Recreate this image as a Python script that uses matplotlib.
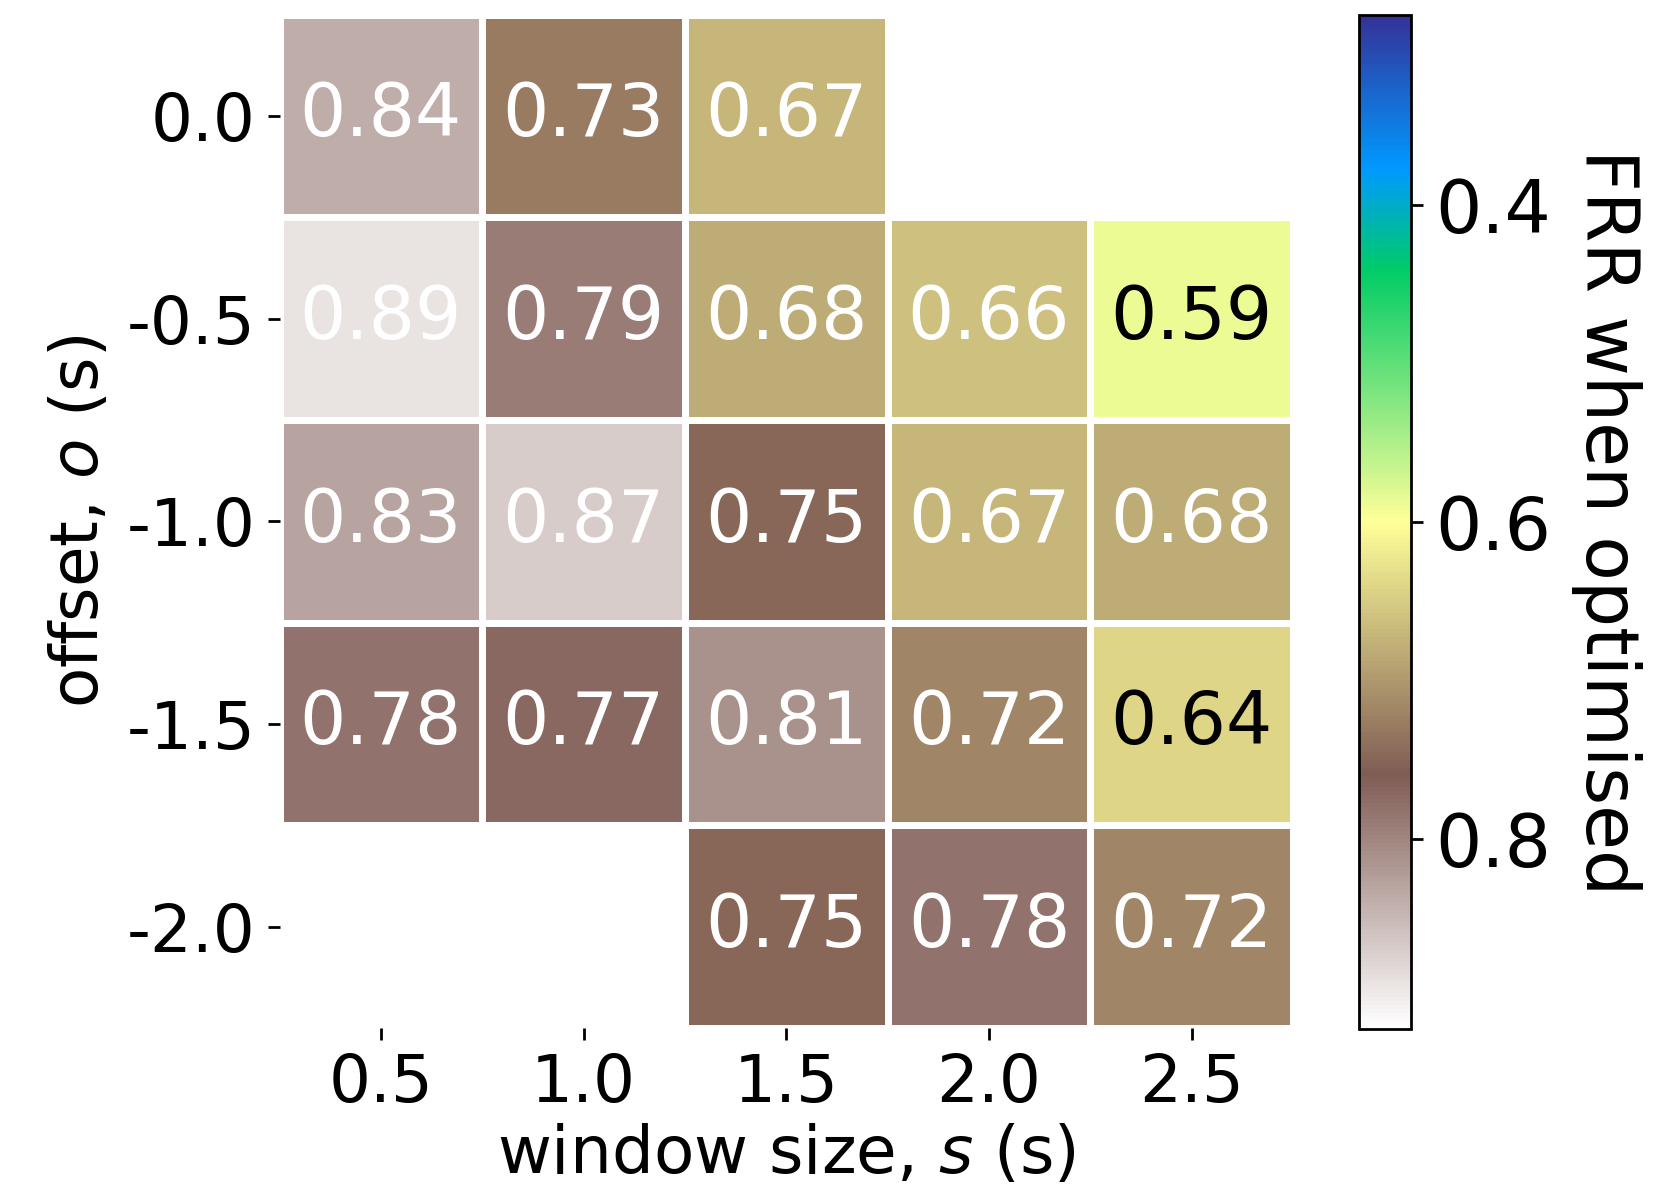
"""
Heatmap of the FRR reached after optimisation, per window size and offset.
"""

import matplotlib

matplotlib.use("Agg")
import matplotlib.pyplot as plt
import numpy as np

#### Data

WINDOW_SIZES = ["0.5", "1.0", "1.5", "2.0", "2.5"]
OFFSETS = ["0.0", "-0.5", "-1.0", "-1.5", "-2.0"]
# rows follow OFFSETS, columns follow WINDOW_SIZES (nan = not evaluated)
FRR_OFFSET_0_0 = [0.84, 0.73, 0.67, np.nan, np.nan]
FRR_OFFSET_0_5 = [0.89, 0.79, 0.68, 0.66, 0.59]
FRR_OFFSET_1_0 = [0.83, 0.87, 0.75, 0.67, 0.68]
FRR_OFFSET_1_5 = [0.78, 0.77, 0.81, 0.72, 0.64]
FRR_OFFSET_2_0 = [np.nan, np.nan, 0.75, 0.78, 0.72]
CBAR_TICKS = [0.4, 0.6, 0.8]

#### Constants

DPI = 250
FIG_W, FIG_H = 1670, 1191
VMIN, VMAX = 0.28, 0.92


def px_box(left, top, right, bottom):
    """Convert a pixel box to a figure-relative axes rectangle."""
    return [left / FIG_W, 1 - bottom / FIG_H, (right - left) / FIG_W, (bottom - top) / FIG_H]


def main():
    frr = np.array(
        [FRR_OFFSET_0_0, FRR_OFFSET_0_5, FRR_OFFSET_1_0, FRR_OFFSET_1_5, FRR_OFFSET_2_0]
    )
    masked = np.ma.masked_invalid(frr)

    fig = plt.figure(figsize=(FIG_W / DPI, FIG_H / DPI), dpi=DPI)
    ax = fig.add_axes(px_box(279.5, 14.5, 1293, 1028))
    cax = fig.add_axes(px_box(1359, 15, 1411, 1029))

    mesh = ax.pcolormesh(
        masked,
        cmap="terrain",
        vmin=VMIN,
        vmax=VMAX,
        edgecolors="white",
        linewidth=2,
    )
    ax.set_xlim(0, len(WINDOW_SIZES))
    ax.set_ylim(len(OFFSETS), 0)

    # annotate every cell, dark text on the light yellow ones
    for i in range(frr.shape[0]):
        for j in range(frr.shape[1]):
            val = frr[i, j]
            if np.isnan(val):
                continue
            colour = "black" if val < 0.65 else "white"
            ax.text(
                j + 0.5, i + 0.5, f"{val:.2f}",
                ha="center", va="center", fontsize=21, color=colour,
            )

    ax.set_xticks(np.arange(len(WINDOW_SIZES)) + 0.5)
    ax.set_xticklabels(WINDOW_SIZES, fontsize=19)
    ax.set_yticks(np.arange(len(OFFSETS)) + 0.5)
    ax.set_yticklabels(OFFSETS, fontsize=19, rotation=0)
    ax.set_xlabel("window size, $s$ (s)", fontsize=19, labelpad=2)
    ax.set_ylabel("offset, $o$ (s)", fontsize=19)
    for spine in ax.spines.values():
        spine.set_visible(False)

    cbar = fig.colorbar(mesh, cax=cax)
    cax.invert_yaxis()
    cbar.set_ticks(CBAR_TICKS)
    cbar.ax.tick_params(labelsize=21)
    cbar.set_label("FRR when optimised", fontsize=21, rotation=270, labelpad=26)

    fig.savefig("out.png", dpi=DPI)


if __name__ == "__main__":
    main()
